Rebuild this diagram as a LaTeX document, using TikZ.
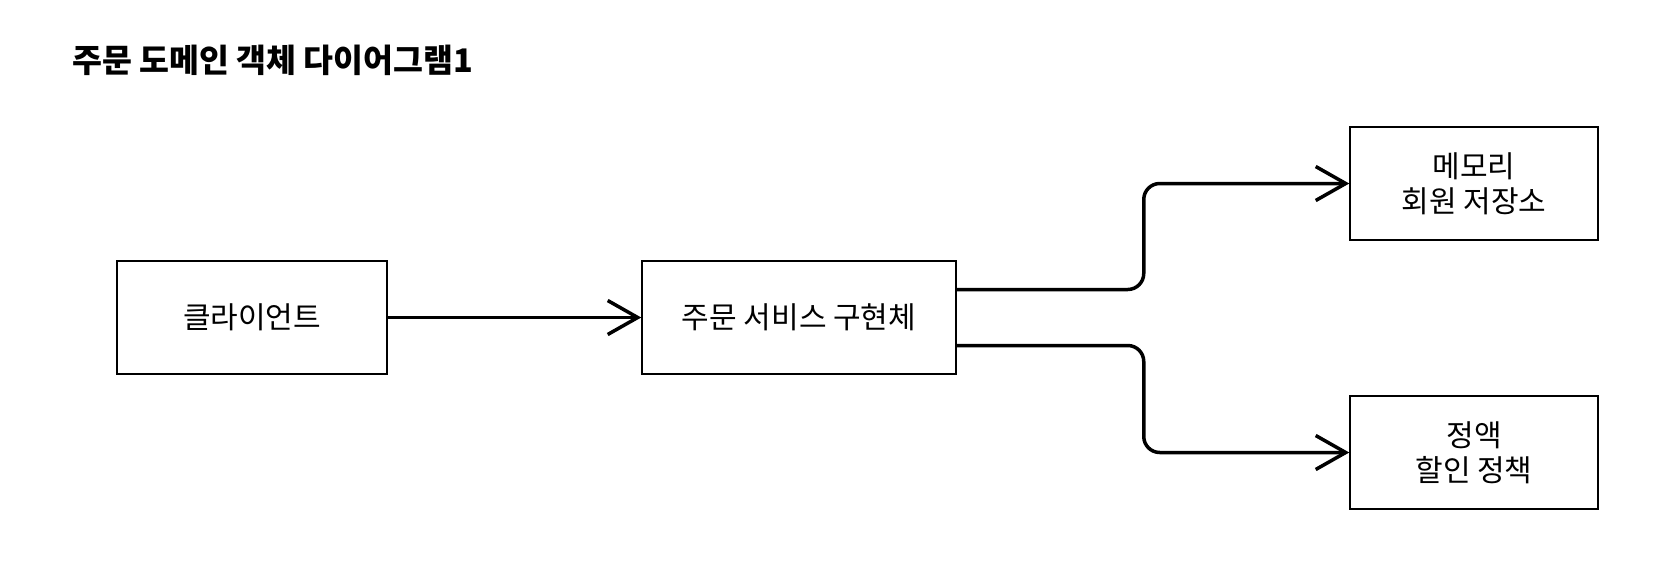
\documentclass[tikz,border=0pt]{standalone}
\usepackage{fontspec}
\setmainfont{Noto Sans CJK KR}
\usepackage{tikz}
\usetikzlibrary{arrows.meta,positioning,calc}

\begin{document}
\begin{tikzpicture}[x=1pt,y=-1pt,
    box/.style={draw,line width=1.5pt,minimum height=113pt,inner sep=0pt,
                align=center,font=\fontsize{30}{35}\selectfont},
    conn/.style={line width=3.5pt,rounded corners=16pt,
                 -{Straight Barb[length=30pt,width=34pt,line width=3.5pt]}}]
  \useasboundingbox (0,0) rectangle (1670,582);
  % Title
  \node[anchor=west,inner sep=0pt,font=\fontsize{32.5}{38}\selectfont\bfseries] (title) at (72,60) {주문 도메인 객체 다이어그램1};
  % Boxes
  \node[box,minimum width=270pt] (client) at (252,317.5) {클라이언트};
  \node[box,minimum width=314pt] (service) at (799,317.5) {주문 서비스 구현체};
  \node[box,minimum width=248pt] (memrepo) at (1474,183.5) {메모리\\회원 저장소};
  \node[box,minimum width=248pt] (discount) at (1474,452.5) {정액\\할인 정책};
  % Connectors
  \draw[conn] (client) -- (service);
  \draw[conn] ([yshift=28pt]service.east) -- ++(187,0) |- (memrepo.west);
  \draw[conn] ([yshift=-28pt]service.east) -- ++(187,0) |- (discount.west);
\end{tikzpicture}
\end{document}
